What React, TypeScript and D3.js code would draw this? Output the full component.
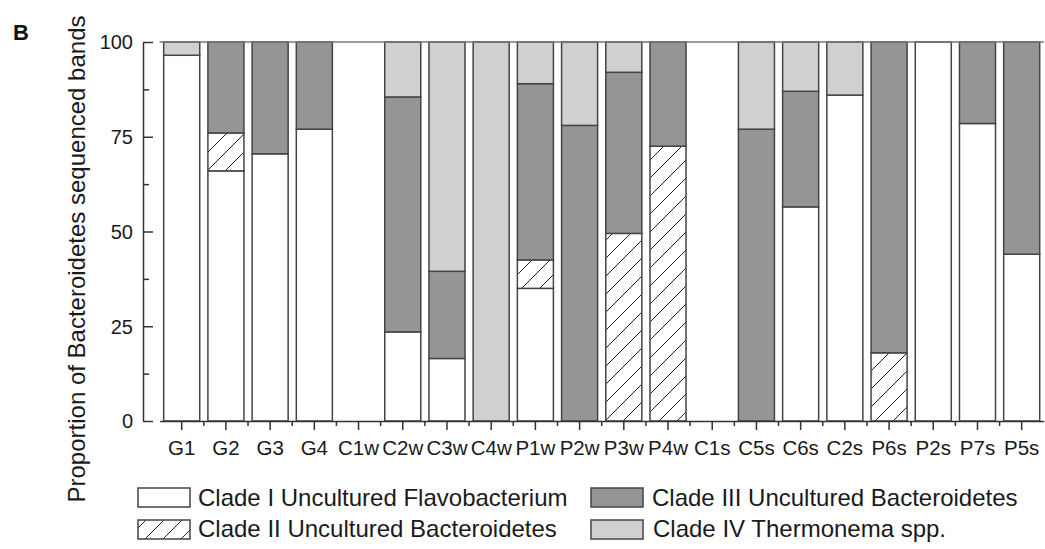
import * as d3 from "d3";
import React from "react";

const categories = [
  "G1", "G2", "G3", "G4", "C1w", "C2w", "C3w", "C4w", "P1w", "P2w",
  "P3w", "P4w", "C1s", "C5s", "C6s", "C2s", "P6s", "P2s", "P7s", "P5s",
];

const cladeI = [96.5, 66, 70.5, 77, 0, 23.5, 16.5, 0, 35, 0, 0, 0, 0, 0, 56.5, 86, 0, 100, 78.5, 44];
const cladeII = [0, 10, 0, 0, 0, 0, 0, 0, 7.5, 0, 49.5, 72.5, 0, 0, 0, 0, 18, 0, 0, 0];
const cladeIII = [0, 24, 29.5, 23, 0, 62, 23, 0, 46.5, 78, 42.5, 27.5, 0, 77, 30.5, 0, 82, 0, 21.5, 56];
const cladeIV = [3.5, 0, 0, 0, 0, 14.5, 60.5, 100, 11, 22, 8, 0, 0, 23, 13, 14, 0, 0, 0, 0];

const seriesKeys = ["I", "II", "III", "IV"];
const seriesNames = [
  "Clade I Uncultured Flavobacterium",
  "Clade II Uncultured Bacteroidetes",
  "Clade III Uncultured Bacteroidetes",
  "Clade IV Thermonema spp.",
];

const majorTicks = [0, 25, 50, 75, 100];
const minorTicks = [12.5, 37.5, 62.5, 87.5];

interface Row {
  cat: string;
  I: number;
  II: number;
  III: number;
  IV: number;
}

const fills: Record<string, string> = {
  I: "#ffffff",
  II: "url(#hatch)",
  III: "#959595",
  IV: "#cfd1d0",
};

export default function App() {
  const ref = React.useRef<SVGSVGElement>(null);

  React.useEffect(() => {
    if (!ref.current) return;
    const svg = d3.select(ref.current);
    svg.selectAll("*").remove();

    const font = "'Liberation Sans', Arial, sans-serif";
    const ink = "#1a1a1a";

    // hatch pattern for clade II
    const pat = svg
      .append("defs")
      .append("pattern")
      .attr("id", "hatch")
      .attr("patternUnits", "userSpaceOnUse")
      .attr("width", 18)
      .attr("height", 18);
    pat.append("rect").attr("width", 18).attr("height", 18).attr("fill", "#fff");
    pat
      .append("path")
      .attr("d", "M0,18L18,0M-4.5,4.5L4.5,-4.5M13.5,22.5L22.5,13.5")
      .attr("stroke", "#222")
      .attr("stroke-width", 1);

    const rows: Row[] = categories.map((c, i) => ({
      cat: c,
      I: cladeI[i],
      II: cladeII[i],
      III: cladeIII[i],
      IV: cladeIV[i],
    }));

    const x = d3
      .scaleBand()
      .domain(categories)
      .range([159.6, 1043.8])
      .paddingInner(0.185)
      .paddingOuter(0.0925);
    const y = d3.scaleLinear().domain([0, 100]).range([421, 42]);
    const step = x.step();

    const stack = d3.stack<Row>().keys(seriesKeys)(rows);

    // bars
    const g = svg.append("g");
    stack.forEach((layer) => {
      g.append("g")
        .selectAll("rect")
        .data(layer.filter((d) => d[1] - d[0] > 0))
        .enter()
        .append("rect")
        .attr("x", (d) => x(d.data.cat) || 0)
        .attr("width", x.bandwidth())
        .attr("y", (d) => y(d[1]))
        .attr("height", (d) => y(d[0]) - y(d[1]))
        .attr("fill", fills[layer.key])
        .attr("stroke", "#444")
        .attr("stroke-width", 1.5);
    });

    // top line at 100
    svg
      .append("line")
      .attr("x1", x.range()[0])
      .attr("x2", x.range()[1])
      .attr("y1", y(100))
      .attr("y2", y(100))
      .attr("stroke", "#777")
      .attr("stroke-width", 1.5);

    // y axis
    const yAxis = svg
      .append("g")
      .attr("transform", "translate(143,0)")
      .call(
        d3
          .axisLeft(y)
          .tickValues(majorTicks)
          .tickSize(-10)
          .tickSizeOuter(0)
          .tickPadding(10)
      );
    yAxis
      .append("g")
      .call(d3.axisLeft(y).tickValues(minorTicks).tickSize(-6).tickFormat(() => ""))
      .select(".domain")
      .remove();
    yAxis.selectAll("path, line").attr("stroke", "#333").attr("stroke-width", 1.5);
    yAxis
      .selectAll("text")
      .attr("font-size", 20)
      .attr("font-family", font)
      .attr("fill", ink)
      .attr("dy", "0.34em");

    // x axis
    const xAxis = svg
      .append("g")
      .attr("transform", "translate(0,421)")
      .call(d3.axisBottom(x).tickSize(9).tickSizeOuter(0).tickPadding(10));
    xAxis
      .selectAll(".minor")
      .data(categories.slice(1))
      .enter()
      .append("line")
      .attr("class", "minor")
      .attr("x1", (d) => (x(d) || 0) + x.bandwidth() / 2 - step / 2)
      .attr("x2", (d) => (x(d) || 0) + x.bandwidth() / 2 - step / 2)
      .attr("y1", 0)
      .attr("y2", 5);
    xAxis.selectAll("path, line").attr("stroke", "#333").attr("stroke-width", 1.5);
    xAxis
      .selectAll("text")
      .attr("font-size", 20.5)
      .attr("font-family", font)
      .attr("fill", ink);

    // y label
    svg
      .append("text")
      .attr("transform", "translate(85,259) rotate(-90)")
      .attr("text-anchor", "middle")
      .attr("font-size", 24)
      .attr("font-family", font)
      .attr("fill", ink)
      .text("Proportion of Bacteroidetes sequenced bands");

    // panel letter
    svg
      .append("text")
      .attr("x", 13)
      .attr("y", 40)
      .attr("font-size", 22)
      .attr("font-weight", "bold")
      .attr("font-family", font)
      .attr("fill", "#111")
      .text("B");

    // legend
    const legendPos = [
      { bx: 138, by: 488, tx: 198, ty: 506 },
      { bx: 138, by: 520, tx: 198, ty: 537 },
      { bx: 591, by: 488, tx: 652, ty: 506 },
      { bx: 591, by: 520, tx: 653, ty: 537 },
    ];
    const legend = svg.append("g");
    seriesKeys.forEach((k, i) => {
      const p = legendPos[i];
      legend
        .append("rect")
        .attr("x", p.bx)
        .attr("y", p.by)
        .attr("width", 52)
        .attr("height", 19)
        .attr("fill", fills[k])
        .attr("stroke", "#444")
        .attr("stroke-width", 1.5);
      legend
        .append("text")
        .attr("x", p.tx)
        .attr("y", p.ty)
        .attr("font-size", 24)
        .attr("font-family", font)
        .attr("fill", ink)
        .text(seriesNames[i]);
    });

    return () => {
      svg.selectAll("*").remove();
    };
  }, []);

  return (
    <svg
      ref={ref}
      width={1045}
      height={549}
      style={{ position: "absolute", left: 0, top: 0, background: "#fff" }}
    />
  );
}
